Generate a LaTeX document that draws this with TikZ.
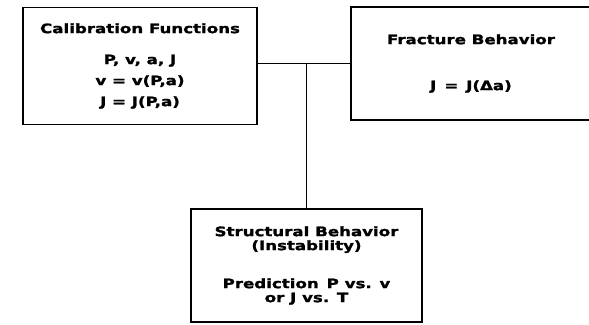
\documentclass[tikz,border=0pt]{standalone}
\usepackage{fontspec}
\newfontfamily\boxfont[FakeStretch=1.28, BoldFeatures={FakeBold=1.6}]{DejaVu Sans}
\usetikzlibrary{calc}

\begin{document}
\begin{tikzpicture}[x=1pt, y=-1pt,
    box/.style={draw, line width=1.9pt, align=center, inner sep=0pt,
      font=\boxfont\bfseries\fontsize{13pt}{14pt}\selectfont},
    link/.style={line width=1.9pt}]
  % Frame of the page
  \useasboundingbox (0, 0) rectangle (589, 324);

  % Boxes
  \node[box, minimum width=234, minimum height=117] (calib) at (140, 66)
    {Calibration Functions\\[17pt]
     P, v, a, J\\[7pt]
     v = v(P,a)\\[7pt]
     J = J(P,a)};
  \node[box, minimum width=240, minimum height=113] (fract) at (471, 63.5)
    {Fracture Behavior\\[32pt]
     J \,=\, J(Δa)};
  \node[box, minimum width=231, minimum height=113] (struct) at (306.5, 265.5)
    {Structural Behavior\\
     (Instability)\\[24pt]
     Prediction \,P vs. v\\
     or J vs. T};

  % Connectors
  \coordinate (joint) at (struct.north |- fract.west);
  \draw[link] (calib.east |- fract.west) -- (fract.west);
  \draw[link] (joint) -- (struct.north);
\end{tikzpicture}
\end{document}
